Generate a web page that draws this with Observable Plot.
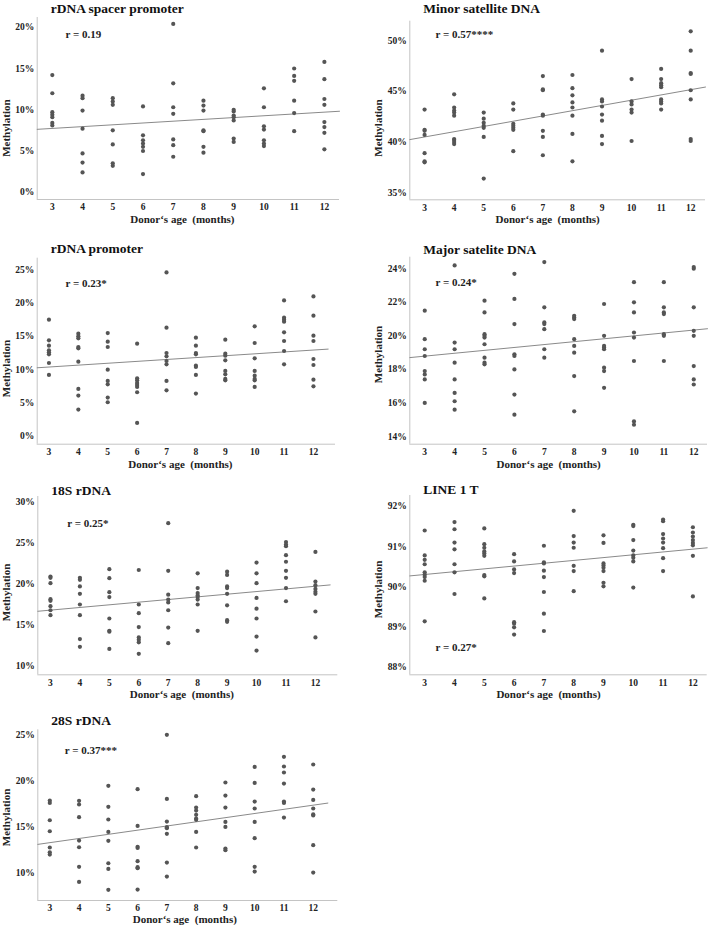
<!DOCTYPE html>
<html><head><meta charset="utf-8">
<script src="https://cdn.jsdelivr.net/npm/d3@7"></script>
<script src="https://cdn.jsdelivr.net/npm/@observablehq/plot@0.6"></script>
<style>
html,body{margin:0;padding:0;background:#fff;}
#chart{position:relative;width:709px;height:925px;overflow:hidden;background:#fff;}
#chart svg{position:absolute;overflow:visible;}
</style></head><body><div id="chart"></div>
<script>
const ages = [3, 4, 5, 6, 7, 8, 9, 10, 11, 12];
const titles = ["rDNA spacer promoter", "Minor satellite DNA", "rDNA promoter", "Major satelite DNA", "18S rDNA", "LINE 1 T", "28S rDNA"];
const rLabels = ["r = 0.19", "r = 0.57****", "r = 0.23*", "r = 0.24*", "r = 0.25*", "r = 0.27*", "r = 0.37***"];
const yTicks = [[0, 5, 10, 15, 20], [35, 40, 45, 50], [0, 5, 10, 15, 20, 25], [14, 16, 18, 20, 22, 24], [10, 15, 20, 25, 30], [88, 89, 90, 91, 92], [10, 15, 20, 25]];
const xLabel = "Donor\u2018s age\u00a0 (months)";
const yLabel = "Methylation";

// methylation (%) per donor age, one inner array per age 3..12
const spacerPromoter = [
  [14.2, 12.0, 9.7, 9.4, 9.1, 8.4, 8.1],
  [11.7, 11.4, 9.9, 7.7, 4.7, 3.6, 2.4],
  [11.4, 11.0, 10.6, 7.5, 5.8, 3.5, 3.2],
  [10.4, 6.9, 6.3, 5.9, 5.5, 5.0, 2.2],
  [20.4, 13.2, 10.3, 9.5, 6.4, 5.7, 4.3],
  [11.1, 10.5, 9.9, 7.5, 7.4, 5.5, 4.8],
  [10.0, 9.8, 9.3, 9.1, 8.7, 6.5, 6.1],
  [12.6, 10.3, 8.0, 7.6, 6.3, 5.9, 5.6],
  [15.0, 14.1, 13.5, 11.1, 9.6, 7.4],
  [15.8, 13.7, 11.3, 10.6, 8.5, 7.9, 7.2, 5.2]
];
const minorSatellite = [
  [43.2, 41.2, 41.1, 40.7, 38.9, 38.1, 38.0],
  [44.7, 43.4, 43.1, 42.9, 42.6, 40.3, 40.2, 40.0, 39.8],
  [42.9, 42.3, 41.9, 41.6, 41.4, 40.5, 36.4],
  [43.8, 43.2, 41.8, 41.6, 41.4, 41.2, 39.1],
  [46.5, 45.2, 45.1, 42.7, 42.6, 41.1, 40.5, 38.7],
  [46.6, 45.3, 44.6, 43.9, 43.4, 42.6, 40.8, 38.1],
  [49.0, 44.2, 44.0, 43.5, 42.7, 42.1, 40.6, 39.8],
  [46.2, 44.0, 43.7, 43.2, 42.9, 40.1],
  [47.2, 46.2, 45.8, 45.6, 45.4, 44.2, 44.0, 43.8, 43.2],
  [50.9, 49.0, 46.8, 46.7, 45.1, 44.2, 40.3, 40.1]
];
const rdnaPromoter = [
  [17.5, 14.4, 13.6, 12.9, 12.6, 12.3, 11.0, 9.2],
  [15.4, 15.0, 14.7, 13.4, 13.2, 11.2, 7.1, 6.1, 4.0],
  [15.5, 14.2, 13.4, 10.0, 8.3, 7.8, 5.8, 5.1],
  [13.9, 8.7, 8.4, 8.0, 7.7, 7.4, 6.6, 2.0],
  [24.6, 16.3, 12.5, 12.0, 11.3, 10.8, 8.3, 6.9],
  [14.8, 13.6, 12.5, 12.3, 10.6, 10.4, 9.2, 6.4],
  [14.5, 12.4, 12.1, 11.4, 9.8, 9.3, 8.6, 8.4],
  [16.5, 14.0, 11.7, 9.8, 9.1, 8.6, 8.4, 7.4],
  [20.4, 17.8, 17.5, 17.2, 15.6, 14.3, 12.8, 10.8],
  [21.0, 18.1, 15.1, 14.3, 11.6, 10.7, 8.5, 7.5]
];
const majorSatellite = [
  [21.5, 19.8, 19.2, 18.8, 17.9, 17.7, 17.4, 16.0],
  [24.2, 19.6, 19.2, 18.4, 17.4, 16.6, 16.1, 15.6],
  [22.1, 21.4, 20.1, 20.0, 19.9, 19.5, 18.7, 18.4, 18.3],
  [23.7, 22.2, 20.7, 18.9, 18.8, 18.0, 16.5, 15.3],
  [24.4, 21.7, 20.8, 20.7, 20.4, 19.2, 18.7],
  [21.2, 21.1, 21.0, 19.8, 19.4, 19.0, 17.6, 15.5],
  [21.9, 20.0, 19.4, 19.3, 19.2, 18.1, 17.9, 16.9],
  [23.2, 22.0, 21.4, 20.2, 19.9, 18.5, 14.9, 14.7],
  [23.2, 21.7, 21.4, 21.3, 20.1, 20.0, 18.5],
  [24.1, 24.0, 21.7, 20.3, 20.0, 18.2, 17.4, 17.1]
];
const rdna18S = [
  [20.9, 20.75, 20.1, 18.15, 17.95, 17.3, 16.8, 16.2],
  [20.75, 20.5, 19.7, 18.8, 17.5, 16.2, 13.3, 12.35],
  [21.8, 20.7, 19.0, 18.4, 15.8, 14.3, 14.2, 12.1],
  [21.7, 17.5, 16.45, 14.75, 13.5, 13.2, 12.9, 11.5],
  [27.4, 21.6, 18.7, 18.1, 17.75, 16.8, 14.7, 12.8],
  [21.3, 19.5, 18.9, 18.6, 18.4, 18.1, 17.5, 14.3],
  [21.5, 21.1, 19.7, 19.5, 18.8, 17.4, 15.6, 15.4],
  [22.6, 21.3, 20.1, 18.3, 17.0, 15.8, 13.6, 11.9],
  [25.1, 24.8, 24.6, 23.5, 22.7, 21.6, 20.75, 19.5, 17.9],
  [23.9, 20.3, 19.85, 19.4, 19.05, 18.8, 16.65, 13.5]
];
const line1T = [
  [91.4, 90.78, 90.67, 90.56, 90.36, 90.3, 90.24, 90.15, 89.14],
  [91.61, 91.43, 91.1, 90.93, 90.56, 90.36, 89.82],
  [91.45, 91.06, 90.97, 90.88, 90.83, 90.77, 90.29, 90.26, 89.71],
  [90.81, 90.63, 90.43, 90.34, 89.12, 89.08, 88.99, 88.81],
  [91.02, 90.61, 90.58, 90.4, 90.24, 89.87, 89.33, 88.9],
  [91.89, 91.26, 91.1, 90.97, 90.52, 90.39, 89.89],
  [91.28, 91.09, 90.58, 90.53, 90.47, 90.39, 90.1, 90.01],
  [91.54, 91.51, 91.16, 90.9, 90.78, 90.72, 90.63, 89.98],
  [91.67, 91.63, 91.31, 91.2, 91.1, 90.96, 90.71, 90.39],
  [91.48, 91.35, 91.25, 91.16, 91.09, 91.03, 90.77, 89.76]
];
const rdna28S = [
  [17.86, 17.6, 15.73, 14.54, 12.78, 12.27, 12.02],
  [17.83, 17.43, 16.06, 13.53, 12.81, 10.69, 9.06],
  [19.45, 17.18, 15.81, 14.47, 13.5, 11.08, 10.47, 8.2],
  [19.09, 15.12, 12.85, 12.74, 11.3, 10.65, 10.54, 8.23],
  [24.97, 18.04, 15.59, 14.98, 14.87, 14.26, 11.15, 9.64],
  [18.33, 17.1, 16.78, 16.31, 15.91, 15.77, 14.47, 12.78],
  [19.81, 18.4, 17.1, 15.55, 15.01, 12.67, 12.49],
  [21.5, 19.77, 17.75, 17.0, 15.55, 13.79, 10.69, 10.18],
  [22.59, 21.54, 20.89, 19.7, 17.75, 17.6, 16.02],
  [21.76, 19.05, 17.93, 17.0, 16.38, 16.24, 13.03, 10.07]
];
const series = [spacerPromoter, minorSatellite, rdnaPromoter, majorSatellite, rdna18S, line1T, rdna28S];

// panel layout (pixels) and axis extents
const layout = [
  {left: 0, top: 0, width: 355, height: 228, mL: 36.7, mR: 16, mT: 17, mB: 29, xDom: [2.5, 12.5], yDom: [-0.88, 21.18], titleDy: -9.2, rAnchor: "top-left", rDx: 28.3, rDy: 17, yLabDy: 19.6, xLabDx: -6, xLabDy: 20},
  {left: 355, top: 0, width: 354, height: 228, mL: 54.3, mR: 4, mT: 20.7, mB: 28.7, xDom: [2.5, 12.5], yDom: [34.31, 51.9], titleDy: -12.8, rAnchor: "top-left", rDx: 25.7, rDy: 13.3, yLabDy: 17.5, xLabDx: -10, xLabDy: 20},
  {left: 0, top: 228, width: 355, height: 242, mL: 36.7, mR: 20, mT: 29.7, mB: 26.3, xDom: [2.6, 12.75], yDom: [-1.2, 26.74], titleDy: -9.7, rAnchor: "top-left", rDx: 28.3, rDy: 25.6, yLabDy: 17.3, xLabDx: -6, xLabDy: 20},
  {left: 355, top: 228, width: 354, height: 242, mL: 54.3, mR: 2, mT: 28.7, mB: 26.3, xDom: [2.5, 12.46], yDom: [13.54, 24.69], titleDy: -8, rAnchor: "top-left", rDx: 25.7, rDy: 25.6, yLabDy: 3.8, xLabDx: -10, xLabDy: 20},
  {left: 0, top: 470, width: 355, height: 232, mL: 37.3, mR: 17.7, mT: 26, mB: 27.7, xDom: [2.57, 12.76], yDom: [8.95, 30.64], titleDy: -6.3, rAnchor: "top-left", rDx: 29.4, rDy: 26.7, yLabDy: 6.8, xLabDx: -6, xLabDy: 20},
  {left: 355, top: 470, width: 354, height: 232, mL: 54.3, mR: 2.3, mT: 25, mB: 27.7, xDom: [2.5, 12.48], yDom: [87.81, 92.27], titleDy: -6, rAnchor: "bottom-left", rDx: 25.7, rDy: -27.6, yLabDy: 4.3, xLabDx: -10, xLabDy: 20},
  {left: 0, top: 702, width: 355, height: 223, mL: 37.3, mR: 17.7, mT: 27.3, mB: 25, xDom: [2.59, 12.84], yDom: [7.05, 25.51], titleDy: -9.6, rAnchor: "top-left", rDx: 27, rDy: 20.7, yLabDy: 2.3, xLabDx: -3, xLabDy: 19.3}
];

function regress(rows) {
  const mx = d3.mean(rows, d => d.age), my = d3.mean(rows, d => d.value);
  const sxy = d3.sum(rows, d => (d.age - mx) * (d.value - my));
  const sxx = d3.sum(rows, d => (d.age - mx) ** 2);
  const b = sxy / sxx;
  return {b, a: my - b * mx};
}

const container = document.getElementById("chart");
const font = "Liberation Serif";

series.forEach((groups, i) => {
  const L = layout[i];
  const rows = groups.flatMap((vals, j) => vals.map(v => ({age: ages[j], value: v})));
  const {a, b} = regress(rows);
  const x1 = Math.min(L.xDom[1], 12.5);
  const fit = [L.xDom[0], x1].map(x => ({x, y: a + b * x}));
  const svg = Plot.plot({
    width: L.width, height: L.height,
    marginLeft: L.mL, marginRight: L.mR, marginTop: L.mT, marginBottom: L.mB,
    style: `background:transparent;overflow:visible;font-family:${font},serif;font-weight:bold;font-size:9.5px;color:#222;`,
    x: {domain: L.xDom, ticks: ages, tickFormat: d => String(d), tickSize: 0, tickPadding: 4, label: null},
    y: {domain: L.yDom, ticks: yTicks[i], tickFormat: d => d + "%", tickSize: 0, tickPadding: 3, label: null},
    marks: [
      Plot.ruleX([L.xDom[0]], {stroke: "#c4c4c4", strokeWidth: 1}),
      Plot.ruleY([L.yDom[0]], {stroke: "#c4c4c4", strokeWidth: 1}),
      Plot.line(fit, {x: "x", y: "y", stroke: "#8a8a8a", strokeWidth: 1}),
      Plot.dot(rows, {x: "age", y: "value", r: 2.1, fill: "#555", stroke: null}),
      Plot.text([titles[i]], {text: d => d, frameAnchor: "top-left", textAnchor: "start", lineAnchor: "middle", dx: 13.5, dy: L.titleDy, fontSize: 13.5, fontWeight: "bold", fontFamily: font, fill: "#111"}),
      Plot.text([rLabels[i]], {text: d => d, frameAnchor: L.rAnchor, textAnchor: "start", lineAnchor: "middle", dx: L.rDx, dy: L.rDy, fontSize: 11, fontWeight: "bold", fontFamily: font, fill: "#222"}),
      Plot.text([yLabel], {text: d => d, frameAnchor: "left", rotate: -90, textAnchor: "middle", lineAnchor: "middle", dx: -31, dy: L.yLabDy, fontSize: 11, fontWeight: "bold", fontFamily: font, fill: "#222"}),
      Plot.text([xLabel], {text: d => d, frameAnchor: "bottom", textAnchor: "middle", lineAnchor: "middle", dx: L.xLabDx, dy: L.xLabDy, fontSize: 11, fontWeight: "bold", fontFamily: font, fill: "#222"})
    ]
  });
  svg.style.left = L.left + "px";
  svg.style.top = L.top + "px";
  container.appendChild(svg);
});
</script></body></html>
